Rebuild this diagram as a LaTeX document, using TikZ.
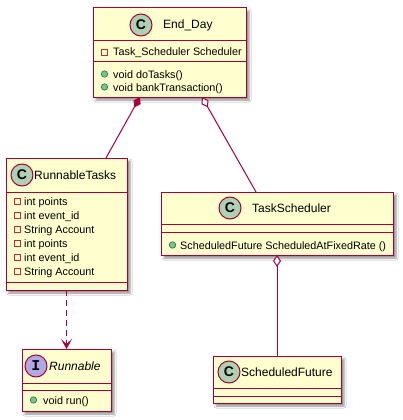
\documentclass[tikz,border=0pt]{standalone}
\usepackage{fontspec}
\setmainfont{Liberation Sans}
\newfontfamily\monofont{Liberation Mono}
\usetikzlibrary{arrows.meta,shadows.blur}
\definecolor{boxfill}{HTML}{FEFECE}
\definecolor{bord}{HTML}{A80036}
\definecolor{cicon}{HTML}{ADD1B2}
\definecolor{iicon}{HTML}{B4A7E5}
\definecolor{privred}{HTML}{C82930}
\definecolor{pubfill}{HTML}{84BE84}
\definecolor{pubdraw}{HTML}{038048}
\begin{document}
\begin{tikzpicture}[x=1pt,y=-1pt,
  cls/.style={draw=bord, fill=boxfill, line width=1pt, anchor=north west, inner sep=0pt, outer sep=0pt,
    blur shadow={shadow xshift=3pt, shadow yshift=-3pt, shadow blur radius=2pt, shadow opacity=45}},
  sep/.style={draw=bord, line width=1pt},
  icon/.style={circle, draw=bord, line width=1pt, minimum size=22pt, inner sep=0pt},
  cname/.style={font=\fontsize{12}{14}\selectfont, anchor=base west, inner sep=0pt},
  member/.style={font=\fontsize{10.8}{13}\selectfont, anchor=base west, inner sep=0pt},
  priv/.style={rectangle, draw=privred, line width=0.8pt, minimum size=6pt, inner sep=0pt},
  pub/.style={circle, draw=pubdraw, fill=pubfill, line width=0.6pt, minimum size=6.5pt, inner sep=0pt},
  link/.style={draw=bord, line width=1pt},
]
\fill[white] (0,0) rectangle (403,420);
\useasboundingbox (0,0) rectangle (403,420);

% ---- End_Day
\node[cls, minimum width=153pt, minimum height=89pt] (endday) at (93,8) {};
\draw[sep] (93,41) -- (246,41);
\draw[sep] (93,62) -- (246,62);
\node[icon, fill=cicon] (enddayicon) at (141,25) {\bfseries\fontsize{14}{14}\selectfont C};
\node[cname] (enddayname) at (163,29) {End\_Day};
\node[priv] (enddaym1) at (104.5,52) {};
\node[member] (enddayt1) at (113,56) {Task\_Scheduler Scheduler};
\node[pub] (enddaym2) at (104.5,74) {};
\node[member] (enddayt2) at (113,78) {void doTasks()};
\node[pub] (enddaym3) at (104.5,87) {};
\node[member] (enddayt3) at (113,91) {void bankTransaction()};

% ---- RunnableTasks
\node[cls, minimum width=121pt, minimum height=132pt] (rt) at (6,158) {};
\draw[sep] (6,192) -- (127,192);
\draw[sep] (6,282) -- (127,282);
\node[icon, fill=cicon] (rticon) at (22,175) {\bfseries\fontsize{14}{14}\selectfont C};
\node[cname] (rtname) at (34,179.5) {RunnableTasks};
\node[priv] (rtm1) at (17,201) {};
\node[member] (rtt1) at (24,205) {int points};
\node[priv] (rtm2) at (17,215) {};
\node[member] (rtt2) at (24,219) {int event\_id};
\node[priv] (rtm3) at (17,229) {};
\node[member] (rtt3) at (24,233) {String Account};
\node[priv] (rtm4) at (17,243) {};
\node[member] (rtt4) at (24,247) {int points};
\node[priv] (rtm5) at (17,257) {};
\node[member] (rtt5) at (24,261) {int event\_id};
\node[priv] (rtm6) at (17,271) {};
\node[member] (rtt6) at (24,275) {String Account};

% ---- TaskScheduler
\node[cls, minimum width=232pt, minimum height=63pt] (ts) at (161,192) {};
\draw[sep] (161,224) -- (393,224);
\draw[sep] (161,232) -- (393,232);
\node[icon, fill=cicon] (tsicon) at (230,208) {\bfseries\fontsize{14}{14}\selectfont C};
\node[cname] (tsname) at (252,212.5) {TaskScheduler};
\node[pub] (tsm1) at (172.5,245) {};
\node[member] (tst1) at (180,249) {ScheduledFuture ScheduledAtFixedRate ()};

% ---- Runnable
\node[cls, minimum width=89pt, minimum height=62pt] (rn) at (22,349) {};
\draw[sep] (22,383) -- (111,383);
\draw[sep] (22,390) -- (111,390);
\node[icon, fill=iicon] (rnicon) at (36,366) {\monofont\bfseries\fontsize{15}{15}\selectfont I};
\node[cname, font=\fontsize{12}{14}\selectfont\itshape] (rnname) at (49,370.5) {Runnable};
\node[pub] (rnm1) at (33.5,400) {};
\node[member] (rnt1) at (43,404) {void run()};

% ---- ScheduledFuture
\node[cls, minimum width=128pt, minimum height=47pt] (sf) at (213,356) {};
\draw[sep] (213,388) -- (341,388);
\draw[sep] (213,396) -- (341,396);
\node[icon, fill=cicon] (sficon) at (229,372) {\bfseries\fontsize{14}{14}\selectfont C};
\node[cname] (sfname) at (241,376.5) {ScheduledFuture};

% ---- connectors
\draw[link, {Diamond[length=12pt,width=8pt]}-] ([xshift=-29.5pt]endday.south) -- ([xshift=39.5pt]rt.north);
\draw[link, {Diamond[length=12pt,width=8pt,fill=white]}-] ([xshift=32.5pt]endday.south) -- ([xshift=-21pt]ts.north);
\draw[link, {Diamond[length=12pt,width=8pt,fill=white]}-] (ts.south) -- (sf.north);
\draw[link, dash pattern=on 6pt off 4pt, -{Stealth[length=10pt,width=11pt,inset=5pt]}] (rt.south) -- (rn.north);
\end{tikzpicture}
\end{document}
